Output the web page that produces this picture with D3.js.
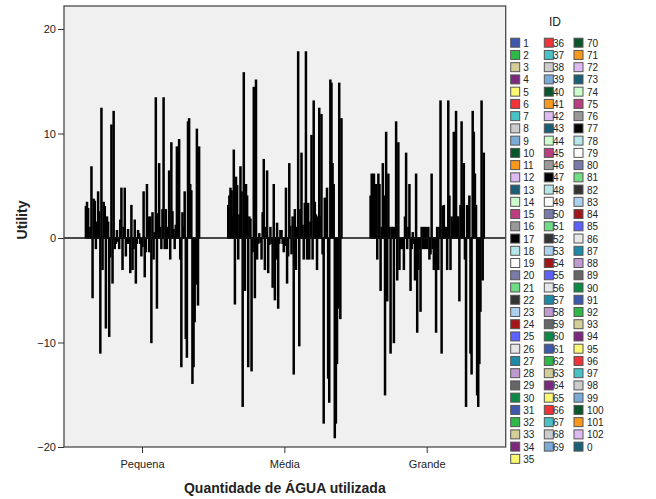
<!DOCTYPE html>
<meta charset="utf-8">
<script src="https://d3js.org/d3.v7.min.js"></script>
<style>
    body { margin: 0; background: #fff; }
    text { font-family: Arial, "Liberation Sans", sans-serif; }
</style>
<div id="my_dataviz"></div>
<script>

    // categories on the x axis
    var categories = ["Pequena", "Média", "Grande"]

    // IDs, in the order SPSS draws them (1..102 then 0)
    var ids = d3.range(1, 103).concat([0])

    // utility per ID, one array per category (same order as ids)
    var pequena = [3.0, 3.4, 2.8, 0.5, 1.0, 6.8, -5.7, 3.7, 3.5, -1.0, 1.5, 4.4, 2.5, -11.0, 12.4, -3.0, 3.4, 3.0, -8.6, 2.0,
        1.5, -9.4, -1.8, 10.8, -4.3, 12.1, -1.0, -0.5, 0.7, -0.3, -1.0, 1.7, 4.75, -3.0, 1.0, 4.75, -1.7, -0.5, 0.8, -0.5,
        -3.3, 3.1, -3.0, -1.0, 1.7, -4.3, -0.5, 0.7, 0.4, -0.5, -1.7, -0.8, 4.4, -3.7, -1.3, 5.1, 2.0, -1.3, 2.0, -10.0,
        2.4, -2.0, 0.5, 13.4, -6.7, 2.3, 7.1, 1.0, -1.0, 2.7, 13.4, -1.0, 2.7, -1.0, 1.0, 6.4, -2.0, 9.1, 2.5, 0.8,
        -1.0, 1.2, 8.7, 1.0, 9.4, -2.0, -12.3, 2.4, 1.0, 4.4, -9.6, -11.4, 11.1, 11.4, 5.1, 4.5, -13.9, -12.3, -8.0, -4.4,
        10.4, -6.4, 8.7]
    var media = [3.1, 4.0, 4.75, 4.5, 2.0, 8.4, -6.3, 5.8, 5.0, -2.0, 2.2, 6.8, 4.4, -16.1, 15.8, -5.0, 5.1, 4.0, -12.3, 2.0,
        1.8, -12.7, -1.3, 14.4, -5.7, 15.1, -2.0, -0.5, 0.4, -0.4, -2.0, 2.4, 7.5, -3.0, 1.0, 6.4, -3.3, -0.6, 1.0, -0.5,
        -4.7, 5.1, -5.9, -2.0, 1.4, -6.7, -0.5, 0.7, 0.7, -0.5, -1.3, -0.7, 4.75, -4.3, -1.7, 7.1, 1.1, -1.5, 2.0, -13.0,
        2.7, -3.0, 1.0, 17.8, -10.3, 2.7, 8.1, 1.2, -2.0, 3.3, 17.8, -2.0, 3.3, -2.0, 1.5, 9.8, -2.0, 13.1, 3.4, 2.2,
        -3.0, 2.0, 12.4, 2.0, 11.8, -1.5, -17.7, 3.8, 2.0, 4.75, -13.4, -15.7, 15.1, 14.8, 7.1, 5.1, -19.1, -17.7, -12.0, -6.7,
        14.8, -7.7, 11.4]
    var grande = [4.0, 6.1, 5.1, 6.1, 1.5, 5.1, -2.0, 6.1, 5.1, -5.0, 1.0, 7.1, 4.0, -15.0, 10.1, -6.0, 6.1, 1.0, -11.0, 1.0,
        1.0, -10.0, 1.0, 11.1, -4.0, 9.1, -3.0, -1.0, -1.0, -0.5, -3.0, 2.0, 8.1, -1.0, 1.0, 5.1, -5.0, -1.0, 0.5, -0.5,
        -4.0, 6.1, -9.0, -3.0, -1.0, -7.0, 1.0, -1.0, 1.0, -1.0, 1.0, -1.0, 1.0, -2.0, -1.5, 6.1, -1.0, -3.0, -3.0, -9.0,
        1.0, -3.0, 1.0, 13.1, -11.0, 3.0, 3.1, 1.0, 1.0, -3.0, 13.1, 4.0, -3.0, 2.0, 1.5, 10.1, 2.0, 12.1, 2.0, 2.0,
        -6.0, 3.1, 11.1, 3.1, 7.1, -2.0, -16.1, 3.1, 3.0, 4.0, -11.0, -13.0, 12.1, 10.1, 6.1, 3.1, -15.0, -16.1, -12.0, -7.0,
        13.1, -4.0, 8.1]

    var yTicks = [-20, -10, 0, 10, 20]

    // SPSS default fill cycle (30 colours)
    var palette = ["#3E58AC", "#2EB848", "#D3CE97", "#7C287D", "#FBF873", "#EF3338", "#48C2C5", "#CCCCCC", "#7AAAD5", "#0A562C",
        "#F8981D", "#DDBAF1", "#1A5F76", "#CCFFCC", "#BB3F7F", "#999999", "#000000", "#B6E7E8", "#FFFFFF", "#797AA7",
        "#70DC84", "#333333", "#ACD0EE", "#A21619", "#5D61FF", "#E6E6E6", "#1F8AA6", "#BE9ACE", "#666666", "#0B8945"]

    var series = [pequena, media, grande]

    var width = 656, height = 499
    var plot = { left: 64, right: 505.7, top: 6, bottom: 447 }

    var svg = d3.select("#my_dataviz")
        .append("svg")
        .attr("width", width)
        .attr("height", height)

    // ---- scales ----
    var x0 = d3.scaleBand()
        .domain(categories)
        .range([plot.left, plot.right])
        .paddingInner(0.197)
        .paddingOuter(0.15)

    var x1 = d3.scaleBand()
        .domain(ids)
        .range([0, x0.bandwidth()])

    var y = d3.scaleLinear()
        .domain([-20, 22.2])
        .range([plot.bottom, plot.top])

    var color = d3.scaleOrdinal()
        .domain(ids)
        .range(ids.map(function (d, i) { return palette[i % 30] }))

    // plot background
    svg.append("rect")
        .attr("x", plot.left)
        .attr("y", plot.top)
        .attr("width", plot.right - plot.left)
        .attr("height", plot.bottom - plot.top)
        .style("fill", "#F0F0F0")

    // ---- bars ----
    // the bars are so thin that the black outline hides the fill
    categories.forEach(function (cat, c) {
        svg.append("g")
            .attr("transform", "translate(" + x0(cat) + ",0)")
            .selectAll("rect")
            .data(ids.map(function (id, i) { return { id: id, v: series[c][i] } }))
            .enter()
            .append("rect")
            .attr("x", function (d) { return x1(d.id) })
            .attr("width", x1.bandwidth())
            .attr("y", function (d) { return y(Math.max(0, d.v)) })
            .attr("height", function (d) { return Math.abs(y(d.v) - y(0)) })
            .style("fill", function (d) { return color(d.id) })
            .style("stroke", "#000")
            .style("stroke-width", 1.4)
    })

    // zero reference line
    svg.append("line")
        .attr("x1", plot.left)
        .attr("x2", plot.right)
        .attr("y1", y(0))
        .attr("y2", y(0))
        .style("stroke", "#111")
        .style("stroke-width", 1.5)

    // frame
    svg.append("rect")
        .attr("x", plot.left)
        .attr("y", plot.top)
        .attr("width", plot.right - plot.left)
        .attr("height", plot.bottom - plot.top)
        .style("fill", "none")
        .style("stroke", "#4a4a4a")
        .style("stroke-width", 1.3)

    // ---- axes ----
    var yAxis = svg.append("g")
        .attr("transform", "translate(" + plot.left + ",0)")
        .call(d3.axisLeft(y).tickValues(yTicks).tickSize(6).tickPadding(2))
    yAxis.select(".domain").remove()
    yAxis.selectAll("line").style("stroke", "#333")
    yAxis.selectAll("text").style("font-size", "11px").style("fill", "#222")
        .style("font-family", "Arial, 'Liberation Sans', sans-serif")

    var xAxis = svg.append("g")
        .attr("transform", "translate(0," + plot.bottom + ")")
        .call(d3.axisBottom(x0).tickSize(6).tickPadding(7))
    xAxis.select(".domain").remove()
    xAxis.selectAll("line").style("stroke", "#333")
    xAxis.selectAll("text").style("font-size", "11px").style("fill", "#222")
        .style("font-family", "Arial, 'Liberation Sans', sans-serif")

    // axis titles
    svg.append("text")
        .attr("x", (plot.left + plot.right) / 2)
        .attr("y", 493)
        .attr("text-anchor", "middle")
        .style("font-size", "14px")
        .style("font-weight", "bold")
        .style("fill", "#222")
        .text("Quantidade de ÁGUA utilizada")

    svg.append("text")
        .attr("transform", "translate(27," + 220 + ") rotate(-90)")
        .attr("text-anchor", "middle")
        .style("font-size", "14px")
        .style("font-weight", "bold")
        .style("fill", "#222")
        .text("Utility")

    // ---- legend ----
    svg.append("text")
        .attr("x", 555)
        .attr("y", 26)
        .attr("text-anchor", "middle")
        .style("font-size", "12px")
        .style("fill", "#222")
        .text("ID")

    var colX = [510.7, 544.3, 574]
    var labX = [523.3, 553, 587]
    var colStart = [0, 35, 69]
    var pitch = 12.24

    var leg = svg.append("g")
        .selectAll("g")
        .data(ids)
        .enter()
        .append("g")
        .attr("transform", function (d, i) {
            var col = i < 35 ? 0 : (i < 69 ? 1 : 2)
            var row = i - colStart[col]
            return "translate(" + colX[col] + "," + (42.7 + row * pitch) + ")"
        })

    leg.append("rect")
        .attr("x", 0)
        .attr("y", -4.5)
        .attr("width", 9)
        .attr("height", 9)
        .style("fill", function (d) { return color(d) })
        .style("stroke", "#555")
        .style("stroke-width", 1)

    leg.append("text")
        .attr("x", function (d, i) {
            var col = i < 35 ? 0 : (i < 69 ? 1 : 2)
            return labX[col] - colX[col]
        })
        .attr("y", 4)
        .style("font-size", "10px")
        .style("fill", "#222")
        .text(function (d) { return d })

</script>
